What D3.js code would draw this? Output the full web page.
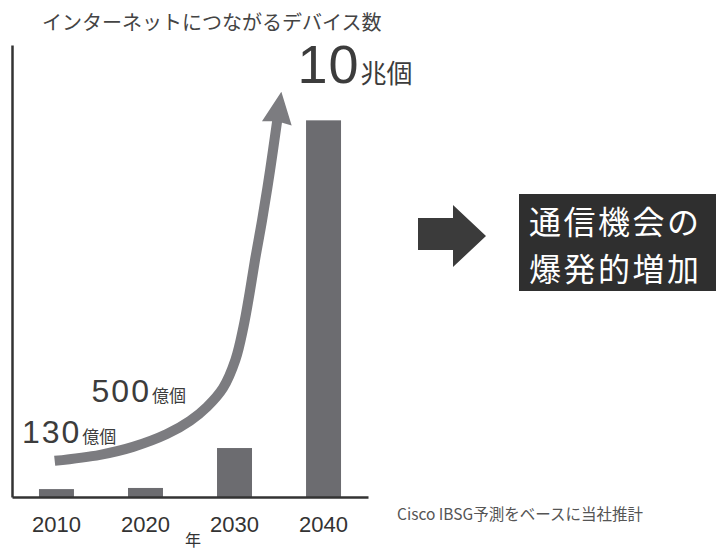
<!DOCTYPE html>
<html>
<head>
<meta charset="utf-8">
<script src="https://cdn.jsdelivr.net/npm/d3@7"></script>
<style>
  html, body { margin: 0; padding: 0; background: #fff; }
  svg { display: block; }
</style>
</head>
<body>
<svg id="chart" width="716" height="551"></svg>
<script>
// ---- data ----
const years = [2010, 2020, 2030, 2040];
const yearLabels = ["2010", "2020", "2030", "2040"];
// bar heights in 兆個 (trillions of devices)
const deviceCounts = [0.21, 0.24, 1.3, 10];

// growth arrow path, in (year, 兆個)
const growthYears  = [2009.8, 2014.9, 2018.6, 2022.4, 2025.0, 2026.9, 2028.7, 2030.1, 2031.0, 2031.7, 2032.3, 2033.1, 2034.0, 2034.8];
const growthValues = [0.96, 1.12, 1.33, 1.67, 2.02, 2.39, 2.89, 3.64, 4.51, 5.42, 6.29, 7.35, 8.68, 10.0];

const calloutNumbers = ["130", "500", "10"];
const calloutUnits   = ["億個", "億個", "兆個"];

const titleText = "インターネットにつながるデバイス数";
const axisTitle = "年";
const sourceNote = "Cisco IBSG予測をベースに当社推計";
const messageLines = ["通信機会の", "爆発的増加"];

// ---- layout ----
const svg = d3.select("#chart");
const baseY = 497;
const JP = "'Noto Sans CJK JP', 'Noto Sans', sans-serif";
const NUM = "'Liberation Sans', Arial, sans-serif";

const x = d3.scaleBand()
  .domain(years)
  .range([12, 368])
  .paddingInner(0.607)
  .paddingOuter(0.303);

const y = d3.scaleLinear().domain([0, 12]).range([baseY, 45]);

const xYear = d3.scaleLinear()
  .domain([years[0], years[years.length - 1]])
  .range([x(years[0]) + x.bandwidth() / 2, x(years[years.length - 1]) + x.bandwidth() / 2]);

// title
svg.append("text")
  .attr("x", 42).attr("y", 30)
  .attr("font-family", JP).attr("font-size", 20)
  .attr("fill", "#444")
  .text(titleText);

// bars
svg.append("g").selectAll("rect")
  .data(years.map((yr, i) => ({ yr, v: deviceCounts[i] })))
  .join("rect")
  .attr("x", d => x(d.yr))
  .attr("width", x.bandwidth())
  .attr("y", d => y(d.v))
  .attr("height", d => baseY - y(d.v))
  .attr("fill", "#6c6c70");

// axes
const xAxis = svg.append("g")
  .attr("transform", `translate(0,${baseY})`)
  .call(d3.axisBottom(x).tickSize(0).tickSizeOuter(0).tickPadding(19)
    .tickFormat((d, i) => yearLabels[i]));
xAxis.attr("font-family", NUM);
xAxis.select(".domain").attr("stroke", "#333").attr("stroke-width", 2.5);
xAxis.selectAll("text")
  .attr("font-family", NUM).attr("font-size", 22).attr("fill", "#333");

const yAxis = svg.append("g")
  .attr("transform", `translate(12,0)`)
  .call(d3.axisLeft(y).ticks(0).tickSize(0).tickSizeOuter(0).tickFormat(""));
yAxis.select(".domain").attr("stroke", "#333").attr("stroke-width", 2.5);
yAxis.selectAll(".tick").remove();

svg.append("text")
  .attr("x", (x.range()[0] + x.range()[1]) / 2 + 3).attr("y", 546)
  .attr("text-anchor", "middle")
  .attr("font-family", JP).attr("font-size", 16).attr("fill", "#333")
  .text(axisTitle);

// growth arrow
const pts = growthYears.map((g, i) => [xYear(g), y(growthValues[i])]);
svg.append("path")
  .attr("d", d3.line().curve(d3.curveCatmullRom.alpha(0.5))(pts))
  .attr("fill", "none")
  .attr("stroke", "#7c7c80")
  .attr("stroke-width", 10);

const [ex, ey] = pts[pts.length - 1];
const [px, py] = pts[pts.length - 2];
const len = Math.hypot(ex - px, ey - py);
const ux = (ex - px) / len, uy = (ey - py) / len;
const headLen = 29, headHalf = 15;
const head = [
  [ex + ux * headLen, ey + uy * headLen],
  [ex - uy * headHalf - ux * 3, ey + ux * headHalf - uy * 3],
  [ex - ux * 1, ey - uy * 1],
  [ex + uy * headHalf - ux * 3, ey - ux * headHalf - uy * 3]
];
svg.append("path")
  .attr("d", "M" + head.map(p => p.join(",")).join("L") + "Z")
  .attr("fill", "#7c7c80");

// value callouts
const calloutPos = [
  { x: xYear(2010) - 34.5, y: y(1.43), size: 32, unitSize: 17, ls: 2 },
  { x: xYear(2014) - 0.5, y: y(2.52), size: 32, unitSize: 17, ls: 2 },
  { x: xYear(2040) - 26, y: y(10.98), size: 54, unitSize: 26, ls: 1 }
];
calloutNumbers.forEach((n, i) => {
  const p = calloutPos[i];
  const t = svg.append("text")
    .attr("x", p.x).attr("y", p.y)
    .attr("fill", "#3c3c3c");
  t.append("tspan")
    .attr("font-family", NUM).attr("font-size", p.size)
    .attr("letter-spacing", p.ls)
    .text(n);
  t.append("tspan")
    .attr("font-family", JP).attr("font-size", p.unitSize)
    .attr("dx", 1)
    .text(calloutUnits[i]);
});

// source note
svg.append("text")
  .attr("x", 397).attr("y", 520)
  .attr("font-family", JP).attr("font-size", 15.5)
  .attr("fill", "#555")
  .text(sourceNote);

// block arrow pointing to the message
const blockArrow = [[418, 218], [453, 218], [453, 205], [486, 236], [453, 267], [453, 250], [418, 250]];
svg.append("path")
  .attr("d", "M" + blockArrow.map(p => p.join(",")).join("L") + "Z")
  .attr("fill", "#3b3b3b");

// message box
svg.append("rect")
  .attr("x", 519).attr("y", 194)
  .attr("width", 197).attr("height", 97)
  .attr("fill", "#2f2f2f");
svg.append("g").selectAll("text")
  .data(messageLines)
  .join("text")
  .attr("x", 529)
  .attr("y", (d, i) => 234 + i * 47)
  .attr("font-family", JP).attr("font-size", 32)
  .attr("letter-spacing", 2.5)
  .attr("fill", "#fff")
  .text(d => d);
</script>
</body>
</html>
